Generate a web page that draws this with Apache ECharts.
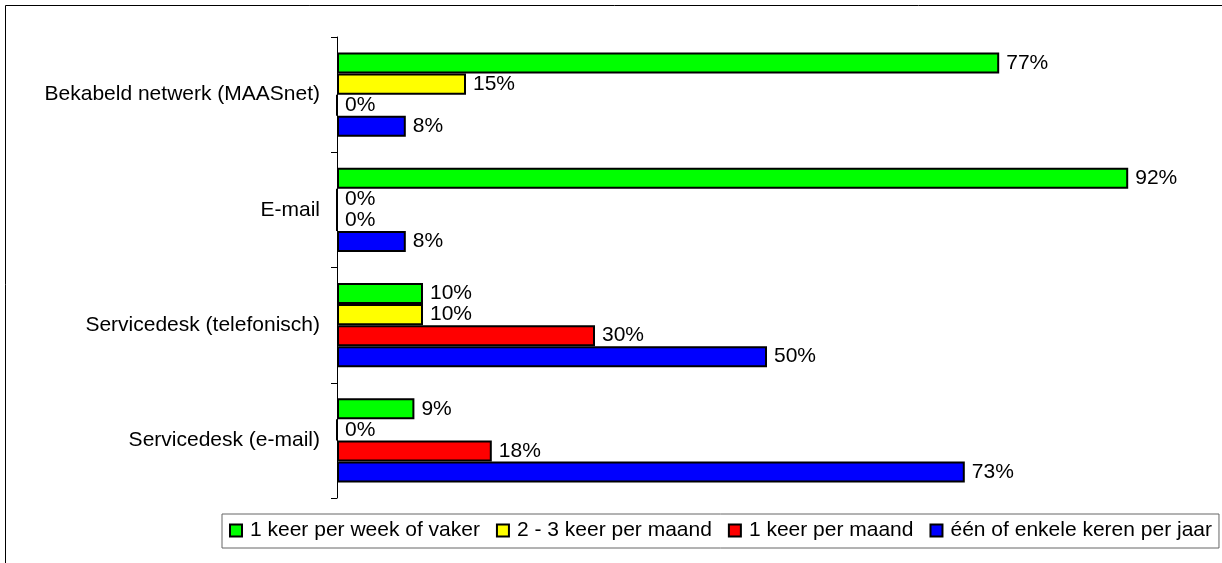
<!DOCTYPE html>
<html>
<head>
<meta charset="utf-8">
<script src="https://cdn.jsdelivr.net/npm/echarts@6/dist/echarts.min.js"></script>
<style>
  html, body { margin: 0; padding: 0; background: #fff; }
  #chart { width: 1222px; height: 563px; }
</style>
</head>
<body>
<div id="chart"></div>
<script>
// categories (top to bottom)
const categories = [
  'Bekabeld netwerk (MAASnet)',
  'E-mail',
  'Servicedesk (telefonisch)',
  'Servicedesk (e-mail)'
];

const seriesNames = [
  '1 keer per week of vaker',
  '2 - 3 keer per maand',
  '1 keer per maand',
  'één of enkele keren per jaar'
];

const weekly = [77, 92, 10, 9];
const twoThreeMonth = [15, 0, 10, 0];
const monthly = [0, 0, 30, 18];
const yearly = [8, 8, 50, 73];

const colors = ['#00ff00', '#ffff00', '#ff0000', '#0000ff'];
const values = [weekly, twoThreeMonth, monthly, yearly];

const fontFamily = 'Liberation Sans, Arial, sans-serif';

const chart = echarts.init(document.getElementById('chart'));

const series = seriesNames.map((name, i) => ({
  name: name,
  type: 'bar',
  data: values[i],
  barGap: '0%',
  barCategoryGap: '27%',
  itemStyle: {
    color: colors[i],
    borderColor: '#000',
    borderWidth: 2
  },
  label: {
    show: true,
    position: 'right',
    distance: 7,
    formatter: '{c}%',
    color: '#000',
    fontSize: 21,
    fontFamily: fontFamily
  },
  emphasis: { disabled: true },
  animation: false
}));

const option = {
  backgroundColor: '#fff',
  textStyle: { fontFamily: fontFamily },
  grid: {
    left: 337,
    top: 37,
    width: 860,
    height: 461
  },
  xAxis: {
    type: 'value',
    min: 0,
    max: 100,
    show: false
  },
  yAxis: {
    type: 'category',
    data: categories,
    inverse: true,
    axisLine: { lineStyle: { color: '#000', width: 1 } },
    axisTick: { show: true, length: 6, lineStyle: { color: '#000' } },
    axisLabel: {
      color: '#000',
      fontSize: 21,
      fontFamily: fontFamily,
      margin: 17
    }
  },
  legend: {
    data: seriesNames,
    left: 222,
    top: 514,
    padding: [6, 7, 7, 7],
    itemWidth: 12,
    itemHeight: 12,
    itemGap: 16,
    icon: 'rect',
    borderColor: '#666',
    borderWidth: 1,
    textStyle: {
      color: '#000',
      fontSize: 21,
      fontFamily: fontFamily,
      padding: [0, 0, 0, 3]
    }
  },
  graphic: [
    {
      type: 'rect',
      shape: { x: 5.5, y: 5.5, width: 1400, height: 800 },
      style: { fill: 'none', stroke: '#000', lineWidth: 1 },
      silent: true
    }
  ],
  series: series
};

chart.setOption(option);
</script>
</body>
</html>
